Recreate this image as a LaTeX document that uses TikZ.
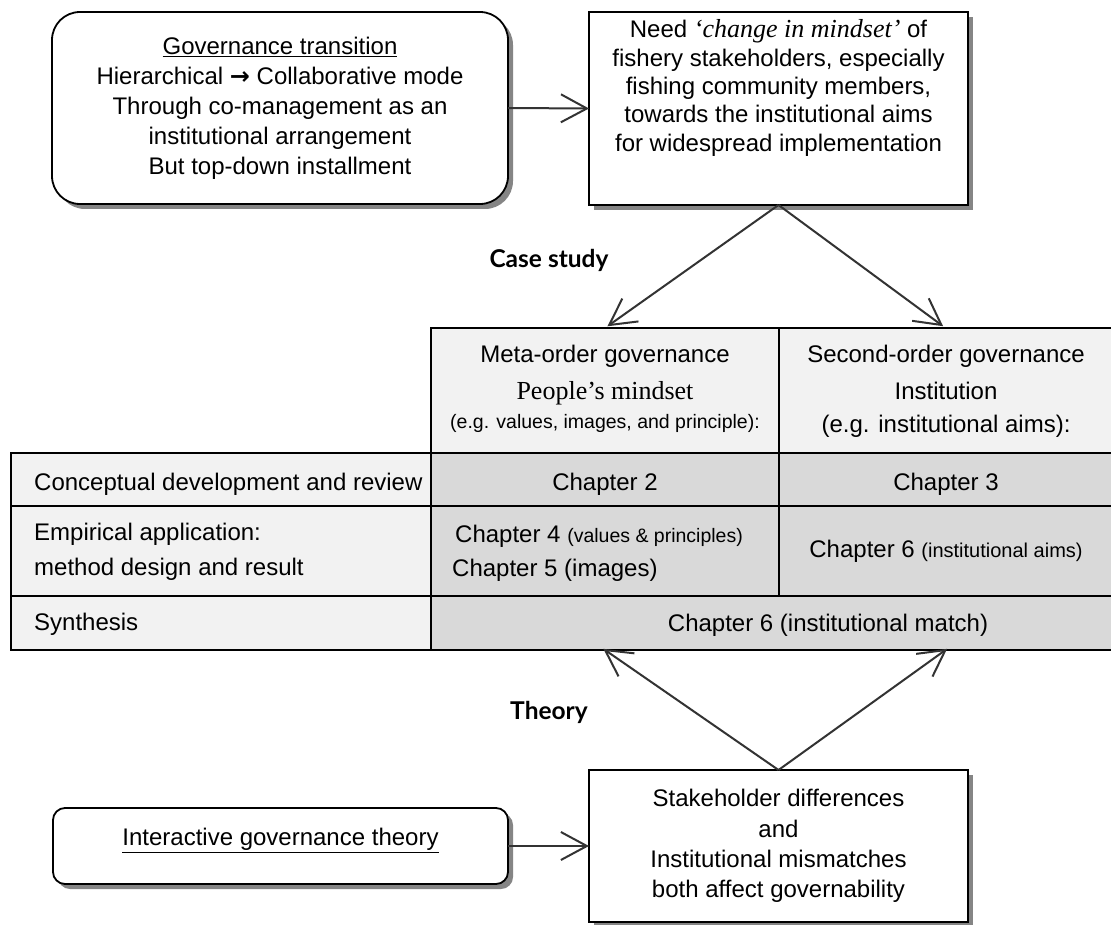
\documentclass[tikz,border=0pt]{standalone}
\usepackage{fontspec}
\setmainfont{Liberation Sans}
\newfontfamily\serifrm{Liberation Serif}
\newfontfamily\tagfont{Lato}
\newfontfamily\symfont{DejaVu Sans}
\usetikzlibrary{arrows.meta,shadows}

\definecolor{hdrgray}{HTML}{F2F2F2}
\definecolor{chgray}{HTML}{D9D9D9}
\definecolor{shadowgray}{HTML}{858585}
\definecolor{arrowgray}{HTML}{333333}

\newcommand\fs[2]{\fontsize{#1}{#2}\selectfont}

\tikzset{
  framebox/.style={draw=black, line width=1.8pt, fill=white, inner sep=0pt, outer sep=0pt},
  shadowed/.style={drop shadow={shadow xshift=5pt, shadow yshift=-5pt, fill=shadowgray, opacity=1}},
  cell/.style={draw=black, line width=1.7pt, inner sep=0pt, outer sep=0pt, anchor=north west},
  hdrcell/.style={cell, fill=hdrgray},
  labcell/.style={cell, fill=hdrgray},
  chcell/.style={cell, fill=chgray},
  txt/.style={inner sep=0pt, anchor=base, font=\fs{24}{29}},
  ltxt/.style={inner sep=0pt, anchor=base west, font=\fs{24}{29}},
  tag/.style={inner sep=0pt, anchor=base, font=\tagfont\bfseries\fs{24.5}{28}},
  link/.style={draw=arrowgray, line width=2pt, -{Straight Barb[length=26pt,width=28pt]}}
}

\begin{document}
\begin{tikzpicture}[x=1pt, y=-1pt]
\useasboundingbox[fill=white] (0,0) rectangle (1111,925);

% ---- top row: transition box and the need for a change in mindset
\node[framebox, shadowed, rounded corners=28pt, minimum width=456pt, minimum height=192pt,
      align=center, font=\fs{24}{30}] (gov) at (280,108)
  {\underline{Governance transition}\\
   Hierarchical {\symfont\bfseries →} Collaborative mode\\
   Through co-management as an\\
   institutional arrangement\\
   But top-down installment};

\node[framebox, shadowed, minimum width=379pt, minimum height=193pt] (need) at (778.5,108.5) {};
\node[inner sep=0pt, align=center, font=\fs{24}{28.4}] (needtxt) at (778.5,88)
  {Need {\serifrm\itshape\fs{26}{28.4}‘change in mindset’} of\\
   fishery stakeholders, especially\\
   fishing community members,\\
   towards the institutional aims\\
   for widespread implementation};

\draw[link] (gov.east) -- (need.west);

% ---- table: header row
\node[hdrcell, minimum width=348pt, minimum height=125pt] (meta) at (431,328) {};
\node[hdrcell, minimum width=333pt, minimum height=125pt] (second) at (779,328) {};

% ---- table: body rows
\node[labcell, minimum width=420pt, minimum height=53pt] (lab1) at (11,453) {};
\node[labcell, minimum width=420pt, minimum height=90pt] (lab2) at (11,506) {};
\node[labcell, minimum width=420pt, minimum height=54pt] (lab3) at (11,596) {};
\node[chcell, minimum width=348pt, minimum height=53pt] (c2) at (431,453) {};
\node[chcell, minimum width=333pt, minimum height=53pt] (c3) at (779,453) {};
\node[chcell, minimum width=348pt, minimum height=90pt] (c45) at (431,506) {};
\node[chcell, minimum width=333pt, minimum height=90pt] (c6a) at (779,506) {};
\node[chcell, minimum width=681pt, minimum height=54pt] (c6m) at (431,596) {};

% header texts
\node[txt] (metaA) at (605,362.7) {Meta-order governance};
\node[txt, font=\serifrm\fs{26}{29}] (metaB) at (605,399.3) {People’s mindset};
\node[txt, font=\fs{19.5}{23}] (metaC) at (605,428.3) {(e.g. values, images, and principle):};
\node[txt] (secA) at (946,362.7) {Second-order governance};
\node[txt] (secB) at (946,399) {Institution};
\node[txt] (secC) at (946,432.7) {(e.g. institutional aims):};

% row labels
\node[ltxt] (labA) at (34,490.7) {Conceptual development and review};
\node[ltxt] (labB) at (34,540) {Empirical application:};
\node[ltxt] (labC) at (34,575) {method design and result};
\node[ltxt] (labD) at (34,630) {Synthesis};

% chapter entries
\node[txt] (ch2) at (605,490) {Chapter 2};
\node[txt] (ch3) at (946,490) {Chapter 3};
\node[ltxt] (ch4) at (455,542.3) {Chapter 4 {\fs{19.5}{23}(values \& principles)}};
\node[ltxt] (ch5) at (452,576.7) {Chapter 5 (images)};
\node[txt] (ch6a) at (946,557.3) {Chapter 6 {\fs{20}{23}(institutional aims)}};
\node[txt] (ch6m) at (828,631.7) {Chapter 6 (institutional match)};

% ---- case study arrows
\draw[link, shorten >=3pt] (need.south) -- (meta.north);
\draw[link, shorten >=3pt] (need.south) -- (second.north);
\node[tag] (casestudy) at (549,268) {Case study};

% ---- bottom row: theory and its implications
\node[framebox, shadowed, rounded corners=12pt, minimum width=455pt, minimum height=76pt] (igt) at (280.5,846) {};
\node[txt] (igttxt) at (280.5,845.7) {\underline{Interactive governance theory}};

\node[framebox, shadowed, minimum width=379pt, minimum height=152pt, align=center,
      font=\fs{24}{30.3}] (diff) at (778.5,846)
  {Stakeholder differences\\
   and\\
   Institutional mismatches\\
   both affect governability};

\draw[link] (igt.east) -- (diff.west);

\draw[link, shorten >=-2pt] (diff.north) -- (c45.center |- c6m.south);
\draw[link, shorten >=-2pt] (diff.north) -- (c6a.center |- c6m.south);
\node[tag] (theory) at (549,719) {Theory};

\end{tikzpicture}
\end{document}
